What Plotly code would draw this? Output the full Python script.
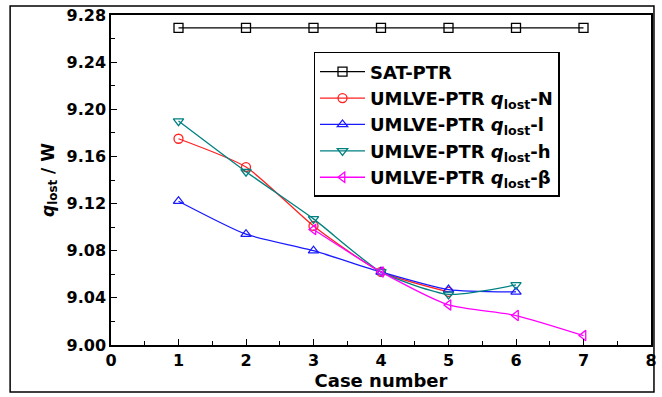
import plotly.graph_objects as go

cases_sat = [1, 2, 3, 4, 5, 6, 7]
sat_ptr = [9.269, 9.269, 9.269, 9.269, 9.269, 9.269, 9.269]

cases_n = [1, 2, 3, 4, 5]
q_n = [9.175, 9.151, 9.101, 9.062, 9.045]

cases_l = [1, 2, 3, 4, 5, 6]
q_l = [9.122, 9.094, 9.080, 9.062, 9.047, 9.045]

cases_h = [1, 2, 3, 4, 5, 6]
q_h = [9.190, 9.147, 9.107, 9.062, 9.043, 9.051]

cases_b = [3, 4, 5, 6, 7]
q_b = [9.098, 9.062, 9.034, 9.025, 9.008]

x_ticks = [0, 1, 2, 3, 4, 5, 6, 7, 8]
y_ticks = [9.00, 9.04, 9.08, 9.12, 9.16, 9.20, 9.24, 9.28]

FONT = "DejaVu Sans, Arial, sans-serif"

series = [
    ("SAT-PTR", cases_sat, sat_ptr, "#000000", "square-open", "linear"),
    ("UMLVE-PTR <i>q</i><sub>lost</sub>-N", cases_n, q_n, "#ff2020", "circle-open", "spline"),
    ("UMLVE-PTR <i>q</i><sub>lost</sub>-l", cases_l, q_l, "#1a1aff", "triangle-up-open", "spline"),
    ("UMLVE-PTR <i>q</i><sub>lost</sub>-h", cases_h, q_h, "#008080", "triangle-down-open", "spline"),
    ("UMLVE-PTR <i>q</i><sub>lost</sub>-β", cases_b, q_b, "#ff00ff", "triangle-left-open", "spline"),
]

fig = go.Figure()
for name, xs, ys, col, sym, shape in series:
    fig.add_trace(go.Scatter(
        x=xs, y=ys, name="<b>" + name + "</b>", mode="lines+markers",
        line=dict(color=col, width=1.3, shape=shape, smoothing=0.6),
        marker=dict(symbol=sym, size=9, color=col, line=dict(width=1.3, color=col)),
    ))

fig.update_layout(
    width=662, height=397,
    margin=dict(l=111, r=5, t=15, b=52),
    paper_bgcolor="white", plot_bgcolor="white",
    font=dict(family=FONT, color="#000000"),
    showlegend=True,
    legend=dict(
        x=0.375, y=0.888, xanchor="left", yanchor="top",
        bordercolor="#000000", borderwidth=1.5, bgcolor="white",
        font=dict(family=FONT, size=18, color="#000000"),
        itemwidth=45, tracegroupgap=0,
    ),
    xaxis=dict(
        range=[0, 8], tickvals=x_ticks, ticktext=[str(v) for v in x_ticks],
        ticks="inside", ticklen=6, tickwidth=1.3, tickcolor="#000000",
        minor=dict(dtick=0.5, ticks="inside", ticklen=4, tickwidth=1.3, tickcolor="#000000"),
        showline=True, linecolor="#000000", linewidth=1.5, mirror=True,
        showgrid=False, zeroline=False,
        tickfont=dict(family=FONT, size=16, weight="bold"),
        title=dict(text="<b>Case number</b>", font=dict(family=FONT, size=18), standoff=2),
    ),
    yaxis=dict(
        range=[9.00, 9.28], tickvals=y_ticks, ticktext=["%.2f" % v for v in y_ticks],
        ticks="inside", ticklen=6, tickwidth=1.3, tickcolor="#000000",
        minor=dict(dtick=0.02, ticks="inside", ticklen=4, tickwidth=1.3, tickcolor="#000000"),
        showline=True, linecolor="#000000", linewidth=1.5, mirror=True,
        showgrid=False, zeroline=False,
        tickfont=dict(family=FONT, size=16, weight="bold"),
        title=dict(text="<b><i>q</i><sub>lost</sub> / W</b>", font=dict(family=FONT, size=17), standoff=8),
    ),
    shapes=[dict(type="rect", xref="paper", yref="paper",
                 x0=-102/546, x1=1.0 + 3/546, y0=-47/330, y1=1.0 + 9/330,
                 line=dict(color="#000000", width=1.5), fillcolor="rgba(0,0,0,0)", layer="below")],
)

fig.write_html("out.html")
